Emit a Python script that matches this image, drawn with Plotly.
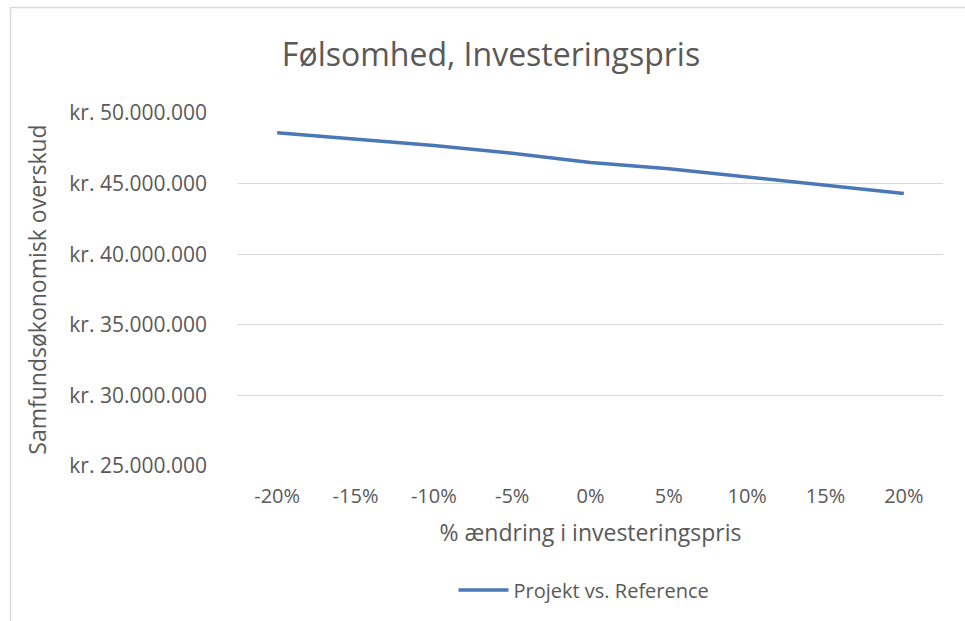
import plotly.graph_objects as go

categories = ["-20%", "-15%", "-10%", "-5%", "0%", "5%", "10%", "15%", "20%"]
series_name = "Projekt vs. Reference"
values = [48600000, 48150000, 47700000, 47150000, 46500000, 46050000, 45450000, 44900000, 44300000]
y_tickvals = [25000000, 30000000, 35000000, 40000000, 45000000, 50000000]
y_ticktext = ["kr. 25.000.000", "kr. 30.000.000", "kr. 35.000.000",
              "kr. 40.000.000", "kr. 45.000.000", "kr. 50.000.000"]

FONT = "Open Sans"
GRAY = "#595959"

fig = go.Figure()
fig.add_trace(go.Scatter(
    x=categories, y=values, mode="lines", name=series_name,
    line=dict(color="#4a78b5", width=3.5),
))

W, H = 965, 621
L, R, T, B = 238, 22, 113, 155
pw, ph = W - L - R, H - T - B

def px(x):
    return (x - L) / pw

def py(y):
    return (H - B - y) / ph

fig.update_layout(
    width=W, height=H,
    margin=dict(l=L, r=R, t=T, b=B),
    paper_bgcolor="white", plot_bgcolor="white",
    font=dict(family=FONT, color=GRAY, size=20),
    title=dict(text="Følsomhed, Investeringspris", x=491 / W, xanchor="center",
               y=1 - 55 / H, yanchor="middle", font=dict(size=32, color=GRAY, family=FONT)),
    showlegend=True,
    legend=dict(orientation="h", x=px(584), xanchor="center", y=py(590), yanchor="middle",
                font=dict(size=20, color=GRAY), itemwidth=50),
    xaxis=dict(
        type="category", range=[-0.5, 8.5], showgrid=False, showline=False, zeroline=False,
        ticks="", tickfont=dict(size=20, color=GRAY), ticklabelstandoff=16,
        title=dict(text="% ændring i investeringspris", font=dict(size=23, color=GRAY), standoff=16),
    ),
    yaxis=dict(
        range=[25000000, 50000000], tickvals=y_tickvals, ticktext=y_ticktext,
        showgrid=True, gridcolor="#d9d9d9", gridwidth=1, zeroline=False, showline=False,
        ticks="", tickfont=dict(size=21, color=GRAY), ticklabelstandoff=30,
        title=dict(text="Samfundsøkonomisk overskud", font=dict(size=23, color=GRAY), standoff=16),
    ),
    shapes=[dict(type="rect", xref="paper", yref="paper",
                 x0=px(10.5), x1=px(970), y0=py(630), y1=py(7.5),
                 line=dict(color="#d9d9d9", width=1.5), layer="below")],
)

fig.write_html("out.html", config={"displayModeBar": False},
               post_script="document.body.style.margin='0px';document.body.style.overflow='hidden';")
